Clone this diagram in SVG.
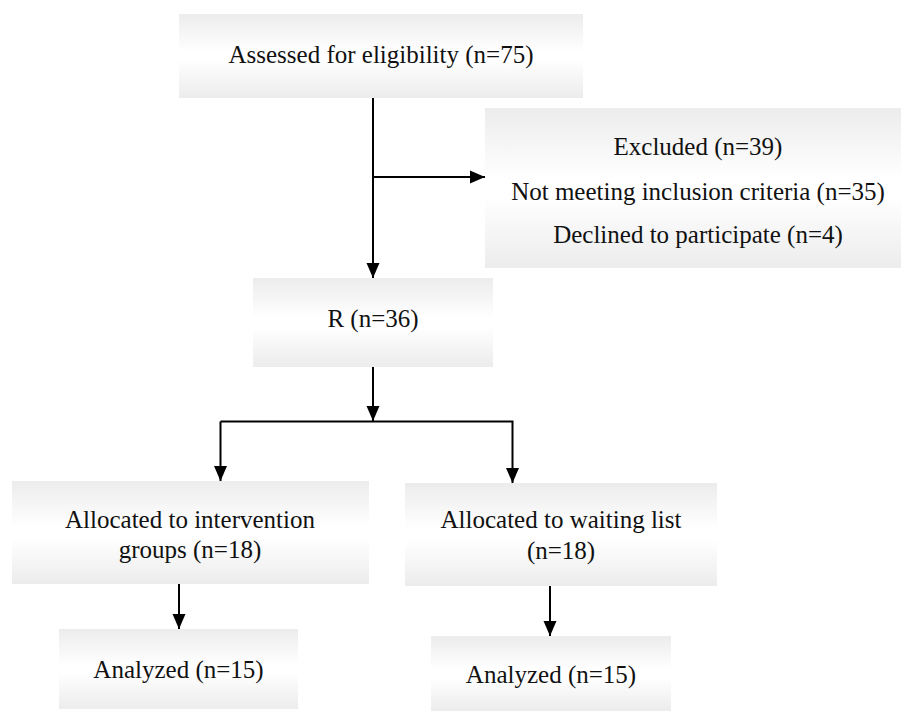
<svg xmlns="http://www.w3.org/2000/svg" width="901" height="711" viewBox="0 0 901 711">
<defs>
<linearGradient id="g" x1="0" y1="0" x2="0" y2="1">
<stop offset="0" stop-color="#ececec"/>
<stop offset="0.45" stop-color="#ffffff"/>
<stop offset="0.55" stop-color="#ffffff"/>
<stop offset="1" stop-color="#ececec"/>
</linearGradient>
<marker id="ah" markerUnits="userSpaceOnUse" markerWidth="15" markerHeight="14" viewBox="0 0 15 14" refX="15" refY="7" orient="auto">
<path d="M0,0.5 L15,7 L0,13.5 Z" fill="#000"/>
</marker>
</defs>
<style>
.box{fill:url(#g);stroke:none}
.t{font-family:'Liberation Serif','Times New Roman','DejaVu Serif',serif;font-size:25px;fill:#111;text-anchor:middle}
.c{fill:none;stroke:#000;stroke-width:2}
</style>
<rect width="901" height="711" fill="#fff"/>
<g id="assessed" font-family="Liberation Serif, serif"><rect class="box" x="179" y="14" width="404" height="84"/><text class="t" x="381" y="63">Assessed for eligibility (n=75)</text></g>
<g id="excluded" font-family="Liberation Serif, serif"><rect class="box" x="485" y="108" width="416" height="160"/>
<text class="t" x="698" y="155">Excluded (n=39)</text>
<text class="t" x="698" y="200">Not meeting inclusion criteria (n=35)</text>
<text class="t" x="698" y="243">Declined to participate (n=4)</text></g>
<g id="randomized" font-family="Liberation Serif, serif"><rect class="box" x="253" y="278" width="240" height="89"/><text class="t" x="373" y="327">R (n=36)</text></g>
<g id="intervention" font-family="Liberation Serif, serif"><rect class="box" x="12" y="481" width="357" height="103"/>
<text class="t" x="190" y="528">Allocated to intervention</text>
<text class="t" x="190" y="558">groups (n=18)</text></g>
<g id="waiting" font-family="Liberation Serif, serif"><rect class="box" x="405" y="483" width="312" height="103"/>
<text class="t" x="561" y="528">Allocated to waiting list</text>
<text class="t" x="561" y="559">(n=18)</text></g>
<g id="analyzed1" font-family="Liberation Serif, serif"><rect class="box" x="59" y="629" width="239" height="80"/><text class="t" x="178.5" y="678">Analyzed (n=15)</text></g>
<g id="analyzed2" font-family="Liberation Serif, serif"><rect class="box" x="431" y="636" width="240" height="75"/><text class="t" x="551" y="683">Analyzed (n=15)</text></g>
<g id="connectors">
<path class="c" d="M373,98 V278" marker-end="url(#ah)"/>
<path class="c" d="M373,177 H485" marker-end="url(#ah)"/>
<path class="c" d="M373,367 V421" marker-end="url(#ah)"/>
<path class="c" d="M220.5,421.5 H512.5 V483" marker-end="url(#ah)"/>
<path class="c" d="M220.5,421.5 V481" marker-end="url(#ah)"/>
<path class="c" d="M179,584 V629" marker-end="url(#ah)"/>
<path class="c" d="M550,586 V636" marker-end="url(#ah)"/>
</g>
</svg>
